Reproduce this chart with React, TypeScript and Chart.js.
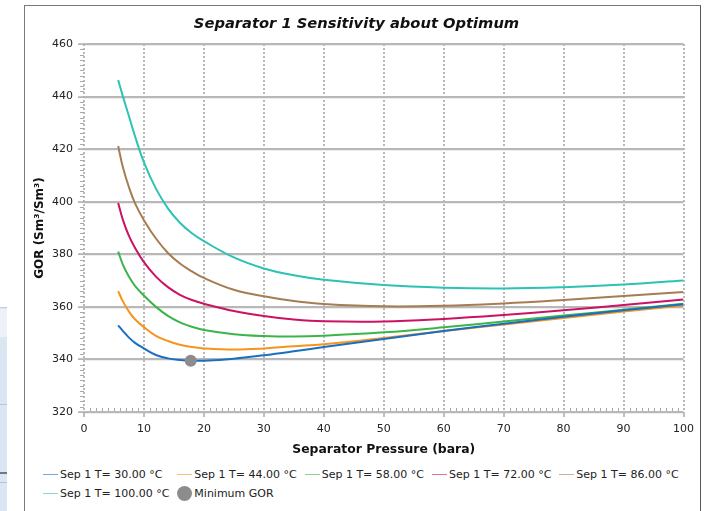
import React, { useEffect, useRef } from "react";
import { Chart, registerables } from "chart.js";

Chart.register(...registerables);

// ---------- data ----------
const pressure = [5.7, 6.5, 7.5, 8.5, 10, 12, 14, 16, 18, 20, 25, 30, 35, 40, 50, 60, 70, 80, 90, 100];
const gor30 = [353, 350.8, 348.3, 346.3, 344.2, 341.7, 340.4, 339.8, 339.5, 339.5, 340.3, 341.6, 343.1, 344.7, 347.8, 350.8, 353.6, 356.2, 358.7, 361];
const gor44 = [366, 362, 358.2, 355.3, 352.3, 349, 347, 345.6, 344.7, 344.2, 343.8, 344.2, 345, 345.8, 348.2, 350.8, 353.3, 355.8, 358.2, 360.5];
const gor58 = [381, 376, 371.5, 368, 364.3, 360, 356.6, 354.1, 352.4, 351.2, 349.6, 348.9, 348.7, 349, 350.3, 352.2, 354.4, 356.7, 358.9, 361.2];
const gor72 = [399.5, 393, 387, 382.5, 377, 371.5, 367.5, 364.6, 362.6, 361.2, 358.4, 356.5, 355.2, 354.5, 354.4, 355.4, 356.9, 358.7, 360.7, 362.8];
const gor86 = [421.2, 413, 405.5, 399.5, 393, 386, 380.5, 376.5, 373.5, 371, 366.5, 364, 362.2, 361.1, 360.2, 360.4, 361.3, 362.6, 364.1, 365.7];
const gor100 = [446.3, 440, 432.5, 425, 415, 405, 397.5, 392, 388, 385, 378.8, 374.6, 372, 370.3, 368.3, 367.3, 367, 367.5, 368.5, 370];

const seriesNames = [
  "Sep 1 T= 30.00 °C",
  "Sep 1 T= 44.00 °C",
  "Sep 1 T= 58.00 °C",
  "Sep 1 T= 72.00 °C",
  "Sep 1 T= 86.00 °C",
  "Sep 1 T= 100.00 °C",
];
const seriesValues = [gor30, gor44, gor58, gor72, gor86, gor100];
const seriesColors = ["#1b6fc2", "#f7941d", "#3bb54a", "#cc1262", "#a67c52", "#2cc2b4"];

const minName = "Minimum GOR";
const minPressure = [17.8];
const minGor = [339.5];
const minColor = "#8c8c8c";

const xTicksStep = 10;
const yTicksStep = 20;
const xMin = 0, xMax = 100, yMin = 320, yMax = 460;

const chartTitle = "Separator 1 Sensitivity about Optimum";
const xTitle = "Separator Pressure (bara)";
const yTitle = "GOR (Sm³/Sm³)";

const FONT = "'DejaVu Sans', Verdana, sans-serif";

const minorTicks = {
  id: "minorTicks",
  beforeDatasetsDraw(chart: any) {
    const { ctx, chartArea, scales } = chart;
    const x = scales.x, y = scales.y;
    ctx.save();
    ctx.strokeStyle = "#a8a8a8";
    ctx.lineWidth = 1;
    ctx.beginPath();
    for (let v = xMin; v <= xMax; v += 1) {
      if (v % xTicksStep === 0) continue;
      const px = Math.round(x.getPixelForValue(v)) + 0.5;
      ctx.moveTo(px, chartArea.bottom - 1);
      ctx.lineTo(px, chartArea.bottom - 4);
    }
    for (let v = yMin; v <= yMax; v += 2) {
      if (v % yTicksStep === 0) continue;
      const py = Math.round(y.getPixelForValue(v)) + 0.5;
      ctx.moveTo(chartArea.left - 4, py);
      ctx.lineTo(chartArea.left, py);
    }
    ctx.stroke();
    ctx.restore();
  },
};

function ChartView() {
  const ref = useRef<HTMLCanvasElement | null>(null);
  useEffect(() => {
    if (!ref.current) return;
    const datasets: any[] = seriesValues.map((vals, i) => ({
      label: seriesNames[i],
      data: pressure.map((p, j) => ({ x: p, y: vals[j] })),
      borderColor: seriesColors[i],
      backgroundColor: seriesColors[i],
      borderWidth: 2,
      pointRadius: 0,
      fill: false,
      tension: 0.4,
    }));
    datasets.push({
      label: minName,
      data: minPressure.map((p, j) => ({ x: p, y: minGor[j] })),
      showLine: false,
      pointRadius: 6,
      pointBackgroundColor: minColor,
      pointBorderWidth: 0,
      backgroundColor: minColor,
      borderColor: minColor,
      order: -1,
    });
    const chart = new Chart(ref.current, {
      type: "line",
      data: { datasets },
      plugins: [minorTicks],
      options: {
        animation: false,
        responsive: false,
        layout: { padding: { left: 0, right: 12, top: 0, bottom: 3 } },
        plugins: {
          legend: { display: false },
          tooltip: { enabled: false },
          title: {
            display: true,
            text: chartTitle,
            color: "#111",
            font: { family: FONT, size: 14.7, weight: "bold", style: "italic" },
            padding: { top: 9.2, bottom: 11.2 },
          },
        },
        scales: {
          x: {
            type: "linear",
            min: xMin,
            max: xMax,
            afterFit: (s: any) => { s.height = 46; },
            ticks: {
              stepSize: xTicksStep,
              color: "#222",
              font: { family: FONT, size: 11 },
              padding: 6,
              maxRotation: 0,
            },
            grid: {
              color: "#b8b8b8",
              lineWidth: 2,
              tickLength: 5,
              tickColor: "#a8a8a8",
              tickWidth: 1.5,
              tickBorderDash: [],
            },
            border: { display: false, dash: [2, 2] },
            title: {
              display: true,
              text: xTitle,
              color: "#111",
              font: { family: FONT, size: 12.4, weight: "bold" },
              padding: { top: 0, bottom: 1 },
            },
          },
          y: {
            type: "linear",
            min: yMin,
            max: yMax,
            afterFit: (s: any) => { s.width = 59; },
            ticks: {
              stepSize: yTicksStep,
              color: "#222",
              font: { family: FONT, size: 11 },
              padding: 5,
            },
            grid: {
              color: "#b8b8b8",
              lineWidth: 2.2,
              tickLength: 6,
              tickColor: "#a8a8a8",
              tickWidth: 1.5,
              tickBorderDash: [],
            },
            border: { display: false },
            title: {
              display: true,
              text: yTitle,
              color: "#111",
              font: { family: FONT, size: 12, weight: "bold" },
              padding: { top: 7.8, bottom: 0 },
            },
          },
        },
      } as any,
    });
    return () => chart.destroy();
  }, []);
  return <canvas ref={ref} width={675} height={455} style={{ position: "absolute", left: 0, top: 0 }} />;
}

function Legend() {
  const items = [
    ...seriesNames.map((n, i) => ({ name: n, color: seriesColors[i], dot: false })),
    { name: minName, color: minColor, dot: true },
  ];
  return (
    <div
      style={{
        position: "absolute",
        left: 18,
        top: 462,
        display: "grid",
        gridTemplateColumns: "repeat(5, auto)",
        columnGap: 8,
        rowGap: 5,
        alignItems: "center",
        fontFamily: FONT,
        fontSize: 11,
        lineHeight: "13px",
        color: "#222",
        whiteSpace: "nowrap",
      }}
    >
      {items.map((it) => (
        <div key={it.name} style={{ display: "flex", alignItems: "center" }}>
          {it.dot ? (
            <span style={{ width: 15, height: 15, borderRadius: "50%", background: it.color, marginRight: 2, display: "inline-block" }} />
          ) : (
            <span style={{ width: 15, height: 1, background: it.color, opacity: 0.6, marginRight: 2, display: "inline-block" }} />
          )}
          <span>{it.name}</span>
        </div>
      ))}
    </div>
  );
}

export default function App() {
  return (
    <div style={{ position: "absolute", left: 0, top: 0, width: 704, height: 511, overflow: "hidden", background: "#fff" }}>
      {/* left side panel remnant */}
      <div style={{ position: "absolute", left: 0, top: 307, width: 7, height: 204, background: "#dce6f2", borderTop: "1px solid #c4ccd8" }}>
        <div style={{ position: "absolute", left: 0, top: 1, width: 7, height: 28, background: "#eef2f8" }} />
        <div style={{ position: "absolute", left: 0, top: 96, width: 7, height: 1, background: "#b8c4d4" }} />
        <div style={{ position: "absolute", left: 0, top: 164, width: 7, height: 2, background: "#6a7890" }} />
        <div style={{ position: "absolute", left: 0, top: 174, width: 7, height: 1, background: "#b8c4d4" }} />
      </div>
      <div
        style={{
          position: "absolute",
          left: 24,
          top: 5,
          width: 675,
          height: 506,
          borderLeft: "1px solid #7a7a7a",
          borderTop: "1px solid #7a7a7a",
          borderRight: "1px solid #555",
        }}
      >
        <ChartView />
        <Legend />
      </div>
    </div>
  );
}
